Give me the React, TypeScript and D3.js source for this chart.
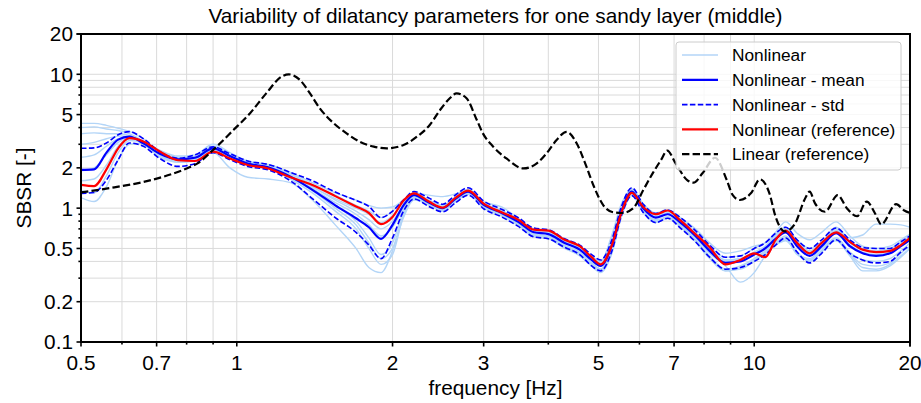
import React, { useEffect } from "react";
import * as d3 from "d3";

const W = 921, H = 403;
const M = { left: 81, right: 910, top: 34, bottom: 342 };

const freqs = [0.5,0.53,0.56,0.59,0.62,0.66,0.71,0.77,0.83,0.9,0.97,1.05,1.15,1.27,1.4,1.55,1.7,1.8,1.9,2.0,2.1,2.2,2.35,2.5,2.65,2.8,3.0,3.25,3.5,3.75,4.0,4.3,4.6,4.85,5.05,5.3,5.55,5.8,6.1,6.45,6.8,7.2,7.7,8.2,8.8,9.4,10.0,10.5,11.0,11.5,12.1,12.8,13.5,14.4,15.3,16.2,17.2,18.3,19.2,20];

const meanVals = [1.93,1.95,2.6,3.25,3.42,3.05,2.55,2.32,2.38,2.8,2.45,2.15,2.02,1.72,1.37,1.05,0.84,0.72,0.59,0.75,1.05,1.25,1.1,1.0,1.18,1.33,1.06,0.92,0.79,0.66,0.64,0.55,0.49,0.41,0.37,0.52,0.97,1.33,1.0,0.85,0.9,0.78,0.62,0.48,0.39,0.40,0.45,0.50,0.59,0.66,0.52,0.44,0.52,0.65,0.52,0.46,0.44,0.46,0.52,0.58];

const stdUpper = [2.8,2.82,3.07,3.53,3.73,3.3,2.64,2.36,2.5,2.87,2.55,2.25,2.12,1.85,1.6,1.32,1.14,1.03,0.85,0.95,1.15,1.33,1.19,1.07,1.26,1.42,1.13,0.98,0.85,0.71,0.69,0.59,0.53,0.45,0.41,0.57,1.05,1.42,1.07,0.91,0.97,0.85,0.68,0.53,0.43,0.44,0.5,0.55,0.65,0.72,0.58,0.5,0.58,0.71,0.58,0.51,0.5,0.5,0.56,0.62];

const stdLower = [1.29,1.31,1.62,2.3,3.07,2.9,2.35,2.05,2.15,2.6,2.3,2.05,1.93,1.6,1.18,0.85,0.66,0.53,0.42,0.6,0.95,1.17,1.03,0.94,1.1,1.25,0.99,0.86,0.73,0.61,0.59,0.51,0.45,0.37,0.34,0.47,0.9,1.24,0.93,0.78,0.84,0.71,0.56,0.43,0.35,0.36,0.4,0.45,0.53,0.6,0.47,0.39,0.46,0.58,0.46,0.41,0.39,0.4,0.47,0.53];

const refVals = [1.49,1.46,1.95,2.8,3.33,3.15,2.65,2.28,2.25,2.64,2.35,2.1,1.98,1.7,1.49,1.23,1.03,0.92,0.76,0.86,1.14,1.29,1.12,1.01,1.2,1.35,1.08,0.93,0.82,0.69,0.68,0.58,0.52,0.43,0.38,0.52,0.95,1.3,1.02,0.9,0.96,0.81,0.64,0.51,0.38,0.41,0.46,0.43,0.58,0.68,0.55,0.46,0.55,0.66,0.56,0.49,0.47,0.48,0.53,0.6];

const run1 = [4.3,4.3,4.15,3.95,3.75,3.3, 2.6,2.3,2.4,2.85,2.5,2.2,2.08,1.8, 1.5,1.25,1.05,0.95,0.85,0.95,1.15,1.3, 1.12,1.02,1.2,1.36,1.08,0.95,0.82,0.68,0.66,0.57,0.5,0.42,0.38,0.55, 1.0,1.38,1.05,0.9,0.95,0.83,0.66,0.52,0.43,0.44,0.5,0.55, 0.62,0.7,0.58,0.5,0.56,0.68,0.6,0.63,0.76,0.76,0.75,0.72];
const run2 = [4.0,4.05,3.9,3.8,3.6,3.15, 2.5,2.2,2.25,2.6,2.0,1.7,1.65,1.55, 1.15,0.75,0.5,0.36,0.33,0.48,0.85,1.15, 1.08,0.97,1.15,1.3,1.03,0.9,0.76,0.63,0.61,0.52,0.46,0.39,0.35,0.5, 0.9,1.28,0.97,0.82,0.86,0.75,0.6,0.46,0.37,0.28,0.33,0.44, 0.55,0.62,0.47,0.4,0.48,0.6,0.47,0.41,0.4,0.42,0.48,0.55];
const run3 = [3.6,3.65,3.6,3.6,3.5,3.1, 2.7,2.45,2.5,3.0,2.6,2.25,2.12,1.85, 1.55,1.3,1.15,1.05,1.0,1.02,1.15,1.3, 1.25,1.22,1.28,1.38,1.12,1.02,0.84,0.7,0.68,0.58,0.52,0.43,0.4,0.6, 1.05,1.4,1.08,0.92,0.97,0.85,0.7,0.55,0.46,0.48,0.52,0.55, 0.66,0.79,0.65,0.58,0.66,0.79,0.62,0.52,0.5,0.52,0.58,0.64];
const run4 = [3.0,3.1,3.3,3.45,3.45,3.05, 2.45,2.25,2.3,2.7,2.4,2.12,2.0,1.7, 1.4,1.05,0.8,0.6,0.45,0.55,0.95,1.2, 1.1,0.98,1.16,1.32,1.05,0.9,0.77,0.64,0.62,0.53,0.47,0.39,0.35,0.48, 0.95,1.3,0.97,0.8,0.86,0.74,0.58,0.44,0.35,0.37,0.42,0.48, 0.56,0.6,0.46,0.4,0.47,0.58,0.45,0.36,0.35,0.38,0.44,0.5];
const run5 = [2.4,2.5,2.9,3.3,3.4,3.0, 2.6,2.38,2.45,2.9,2.5,2.2,2.05,1.75, 1.45,1.15,0.95,0.82,0.7,0.8,1.05,1.27, 1.14,1.03,1.22,1.38,1.1,0.95,0.82,0.69,0.67,0.58,0.51,0.43,0.39,0.56, 1.0,1.35,1.02,0.88,0.92,0.8,0.64,0.5,0.41,0.42,0.47,0.52, 0.62,0.7,0.55,0.47,0.55,0.7,0.55,0.49,0.47,0.49,0.55,0.6];
const run6 = [1.9,2.0,2.5,3.1,3.35,3.0, 2.4,2.2,2.3,2.75,2.45,2.15,2.0,1.68, 1.35,1.0,0.75,0.55,0.42,0.5,0.9,1.2, 1.06,0.96,1.13,1.28,1.02,0.88,0.75,0.62,0.6,0.51,0.45,0.38,0.34,0.47, 0.92,1.26,0.95,0.8,0.85,0.73,0.57,0.43,0.34,0.36,0.41,0.47, 0.54,0.58,0.45,0.41,0.48,0.57,0.44,0.34,0.34,0.37,0.43,0.5];
const run7 = [1.6,1.65,2.1,2.9,3.3,3.05, 2.55,2.35,2.4,2.8,2.45,2.15,2.03,1.75, 1.4,1.1,0.9,0.75,0.62,0.72,1.0,1.25, 1.12,1.01,1.19,1.34,1.07,0.93,0.8,0.67,0.65,0.56,0.5,0.42,0.37,0.53, 1.0,1.36,1.03,0.86,0.91,0.79,0.63,0.49,0.4,0.41,0.46,0.51, 0.6,0.68,0.54,0.45,0.53,0.67,0.53,0.47,0.45,0.47,0.53,0.59];
const run8 = [1.35,1.3,1.75,2.6,3.2,3.1, 2.6,2.3,2.35,2.75,2.4,2.1,1.98,1.65, 1.3,0.95,0.7,0.5,0.38,0.45,0.88,1.18, 1.05,0.95,1.12,1.27,1.0,0.87,0.74,0.61,0.59,0.5,0.44,0.37,0.33,0.45, 0.88,1.25,0.93,0.78,0.84,0.72,0.56,0.42,0.34,0.35,0.4,0.46, 0.53,0.57,0.46,0.42,0.5,0.6,0.46,0.38,0.37,0.39,0.46,0.52];
const run9 = [1.2,1.12,1.45,2.3,3.0,3.05, 2.7,2.4,2.4,2.8,2.5,2.2,2.05,1.8, 1.45,1.18,1.0,0.9,0.78,0.88,1.1,1.3, 1.15,1.05,1.22,1.37,1.09,0.96,0.83,0.7,0.68,0.59,0.52,0.44,0.4,0.62, 1.1,1.32,1.0,0.87,0.93,0.8,0.64,0.5,0.41,0.42,0.46,0.5, 0.64,0.72,0.57,0.48,0.56,0.72,0.57,0.5,0.48,0.5,0.56,0.62];
const runs = [run1, run2, run3, run4, run5, run6, run7, run8, run9];

const linFreqs = [0.5,0.58,0.67,0.8,0.84,0.9,0.985,1.06,1.14,1.22,1.26,1.325,1.385,1.447,1.54,1.63,1.73,1.84,1.95,2.1,2.23,2.36,2.47,2.58,2.66,2.78,2.91,2.99,3.13,3.32,3.58,3.8,3.97,4.15,4.34,4.54,4.74,4.9,5.11,5.35,5.55,5.84,6.1,6.38,6.6,6.79,7.05,7.42,7.63,7.95,8.4,8.85,9.09,9.38,9.85,10.26,10.7,11.0,11.46,12.0,12.5,12.8,13.1,13.7,14.5,15.1,15.8,16.5,17.1,17.6,18.8,19.5,20];
const linVals = [1.31,1.43,1.59,1.98,2.16,2.72,3.83,5.1,7.2,9.6,10.0,9.06,7.2,5.57,4.3,3.62,3.13,2.88,2.8,2.96,3.42,4.18,5.4,6.62,7.2,6.62,4.55,3.62,2.88,2.35,1.98,2.16,2.57,3.23,3.72,3.04,2.04,1.45,1.05,0.93,0.92,1.0,1.36,1.85,2.28,2.69,2.16,1.62,1.55,1.83,2.38,1.62,1.25,1.15,1.29,1.64,1.29,0.86,0.67,0.77,1.15,1.33,1.09,0.94,1.25,1.0,0.87,1.12,0.92,0.757,1.07,0.96,0.92];

const xTickLabels = [0.5, 0.7, 1, 2, 3, 5, 7, 10, 20];
const yTickLabels = [0.1, 0.2, 0.5, 1, 2, 5, 10, 20];
const legendLabels = ["Nonlinear", "Nonlinear - mean", "Nonlinear - std", "Nonlinear (reference)", "Linear (reference)"];

const FONT = "'Liberation Sans', Arial, sans-serif";
const LIGHT = "#b3d5f7";
const FS = 20.8;
const LFS = 17.3;

export default function App() {
  useEffect(() => {
    document.body.style.margin = "0";
  }, []);

  const x = d3.scaleLog().domain([0.5, 20]).range([M.left, M.right]);
  const y = d3.scaleLog().domain([0.1, 20]).range([M.bottom, M.top]);

  const mk = (fs: number[]) =>
    d3.line<number>()
      .x((_, i) => x(fs[i]))
      .y((v) => y(v))
      .curve(d3.curveMonotoneX);
  const lineG = mk(freqs);
  const lineL = mk(linFreqs);

  const xMinor: number[] = [];
  for (const dec of [0.1, 1, 10]) for (let k = 1; k <= 9; k++) {
    const v = +(k * dec).toFixed(3);
    if (v >= 0.5 && v <= 20) xMinor.push(v);
  }
  xMinor.push(20);
  const yMinor: number[] = [];
  for (const dec of [0.1, 1, 10]) for (let k = 1; k <= 9; k++) {
    const v = +(k * dec).toFixed(3);
    if (v >= 0.1 && v <= 20) yMinor.push(v);
  }
  yMinor.push(20);

  const legendX = 676, legendY = 42, legendW = 225, legendH = 128;
  const rowY = (i: number) => 55 + i * 24.8;
  const legendStyles = [
    { stroke: LIGHT, width: 1.5, dash: "" },
    { stroke: "#0000ff", width: 2.2, dash: "" },
    { stroke: "#0000ff", width: 1.6, dash: "5.5,2.4" },
    { stroke: "#ff0000", width: 2.2, dash: "" },
    { stroke: "#000000", width: 2.2, dash: "7.4,3.2" },
  ];

  return (
    <svg width={W} height={H} style={{ display: "block", fontFamily: FONT }}>
      <defs>
        <clipPath id="plotclip">
          <rect x={M.left} y={M.top} width={M.right - M.left} height={M.bottom - M.top} />
        </clipPath>
      </defs>
      <rect x={0} y={0} width={W} height={H} fill="#fff" />
      <g stroke="#dadada" strokeWidth={1}>
        {xMinor.map((v) => (
          <line key={"gx" + v} x1={x(v)} x2={x(v)} y1={M.top} y2={M.bottom} />
        ))}
        {yMinor.map((v) => (
          <line key={"gy" + v} x1={M.left} x2={M.right} y1={y(v)} y2={y(v)} />
        ))}
      </g>
      <g clipPath="url(#plotclip)" fill="none">
        {runs.map((r, i) => (
          <path key={"r" + i} d={lineG(r) || ""} stroke={LIGHT} strokeWidth={1.4} />
        ))}
        <path d={lineG(meanVals) || ""} stroke="#0000ff" strokeWidth={2.2} />
        <path d={lineG(stdUpper) || ""} stroke="#0000ff" strokeWidth={1.6} strokeDasharray="5.5,2.4" />
        <path d={lineG(stdLower) || ""} stroke="#0000ff" strokeWidth={1.6} strokeDasharray="5.5,2.4" />
        <path d={lineG(refVals) || ""} stroke="#ff0000" strokeWidth={2.2} />
        <path d={lineL(linVals) || ""} stroke="#000" strokeWidth={2.2} strokeDasharray="7.4,3.2" />
      </g>
      <rect x={M.left} y={M.top} width={M.right - M.left} height={M.bottom - M.top} fill="none" stroke="#000" strokeWidth={2} />
      <g stroke="#000" strokeWidth={1.6}>
        {xMinor.map((v) => {
          const major = xTickLabels.includes(v);
          return <line key={"tx" + v} x1={x(v)} x2={x(v)} y1={M.bottom} y2={M.bottom + (major ? 4.5 : 2.6)} />;
        })}
        {yMinor.map((v) => {
          const major = yTickLabels.includes(v);
          return <line key={"ty" + v} x1={M.left} x2={M.left - (major ? 4.5 : 2.6)} y1={y(v)} y2={y(v)} />;
        })}
      </g>
      <g fontSize={FS} fill="#000">
        {xTickLabels.map((v) => (
          <text key={"lx" + v} x={x(v)} y={370} textAnchor="middle">{String(v)}</text>
        ))}
        {yTickLabels.map((v) => (
          <text key={"ly" + v} x={M.left - 8} y={y(v) + 7.4} textAnchor="end">{String(v)}</text>
        ))}
      </g>
      <text x={(M.left + M.right) / 2} y={23} textAnchor="middle" fontSize={FS}>
        Variability of dilatancy parameters for one sandy layer (middle)
      </text>
      <text x={(M.left + M.right) / 2} y={395} textAnchor="middle" fontSize={FS}>frequency [Hz]</text>
      <text transform={`translate(31,${(M.top + M.bottom) / 2}) rotate(-90)`} textAnchor="middle" fontSize={FS}>SBSR [-]</text>
      <rect x={legendX} y={legendY} width={legendW} height={legendH} rx={3} fill="#fff" fillOpacity={0.8} stroke="#cccccc" strokeWidth={1} />
      {legendLabels.map((lab, i) => (
        <g key={"lg" + i}>
          <line x1={682} x2={718} y1={rowY(i)} y2={rowY(i)} stroke={legendStyles[i].stroke} strokeWidth={legendStyles[i].width} strokeDasharray={legendStyles[i].dash} />
          <text x={732} y={rowY(i) + 6.2} fontSize={LFS}>{lab}</text>
        </g>
      ))}
    </svg>
  );
}
